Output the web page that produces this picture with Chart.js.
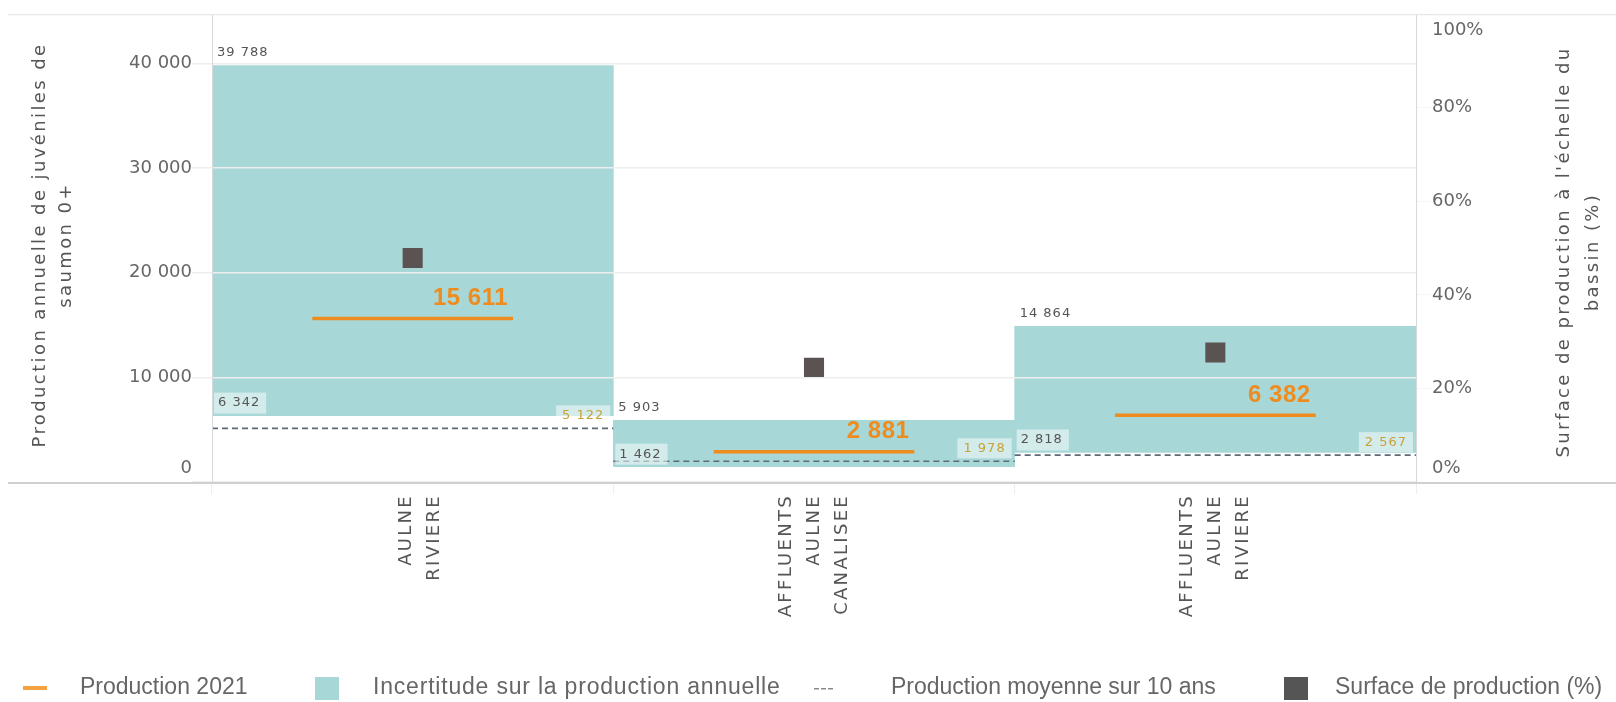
<!DOCTYPE html>
<html lang="fr">
<head>
<meta charset="UTF-8">
<title>Production de juvéniles de saumon 0+</title>
<script src="https://cdn.jsdelivr.net/npm/chart.js"></script>
<style>
  html, body { margin: 0; padding: 0; background: #fff; }
  canvas { display: block; }
</style>
</head>
<body>
<canvas id="chartProduction" width="1616" height="702"></canvas>
<script>
// données
const secteurs = [['AULNE', 'RIVIERE'], ['AFFLUENTS', 'AULNE', 'CANALISEE'], ['AFFLUENTS', 'AULNE', 'RIVIERE']];
const bornesBasses = [6342, 1462, 2818];
const bornesHautes = [39788, 5903, 14864];
const production2021 = [15611, 2881, 6382];
const moyenne10ans = [5122, 1978, 2567];
const surfacePct = [47.9, 24.4, 27.7];
const ticksProduction = [0, 10000, 20000, 30000, 40000];
const ticksSurface = [0, 20, 40, 60, 80, 100];
const maxProduction = 44690;

const ORANGE = '#ef8c1f';
const TURQUOISE = '#a8d7d7';
const GRIS_CARRE = '#5b5351';
const GRIS_TIRETS = '#5f6a78';
const OR = '#c8a239';

function fmt(v) {
    return String(v).replace(/\B(?=(\d{3})+(?!\d))/g, ' ');
}

// segments horizontaux centrés sur chaque catégorie (axe linéaire caché)
function segments(valeurs, demi) {
    const pts = [];
    valeurs.forEach((v, i) => {
        pts.push({ x: i - demi, y: v }, { x: i + demi, y: v }, { x: i + 0.5, y: null });
    });
    return pts;
}

Chart.defaults.font.family = '"DejaVu Sans", sans-serif';

function patchEtiquettes(scale, fn) {
    if (!scale || scale._patchEtiq) return;
    const calcul = scale._computeLabelItems;
    scale._computeLabelItems = function (area) {
        const items = calcul.call(this, area);
        items.forEach(item => fn(this, item));
        return items;
    };
    scale._labelItems = null;
    scale._patchEtiq = true;
}

const ajustements = {
    id: 'ajustements',
    afterLayout(chart) {
        try {
            const sx = chart.scales.x;
            patchEtiquettes(sx, (s, item) => {
                const n = Array.isArray(item.label) ? item.label.length : 1;
                const lh = item.font.lineHeight;
                item.options.translation[0] -= n === 2 ? lh / 2 - 8 : (n - 1) * lh / 2;
            });
            if (!sx._patchEspace) {
                const dessin = sx.drawLabels;
                sx.drawLabels = function (area) {
                    this.ctx.save();
                    this.ctx.letterSpacing = '2.3px';
                    dessin.call(this, area);
                    this.ctx.restore();
                };
                sx._patchEspace = true;
            }
            const serrer = (s, item) => {
                const t = item.options.translation;
                t[1] = Math.min(Math.max(t[1], s.top + 16), s.bottom - 14);
            };
            patchEtiquettes(chart.scales.y, serrer);
            patchEtiquettes(chart.scales.y2, serrer);
        } catch (e) { /* rendu par défaut */ }
    }
};

function texte(ctx, str, x, y, font, couleur, align, espace) {
    ctx.save();
    ctx.font = font;
    ctx.fillStyle = couleur;
    ctx.textAlign = align;
    ctx.textBaseline = 'middle';
    ctx.letterSpacing = espace || '0px';
    ctx.fillText(str, x, y);
    ctx.restore();
}

const decor = {
    id: 'decor',
    afterDraw(chart) {
        const { ctx, chartArea: a, scales: { x, xl, y } } = chart;
        const largeur = x.getPixelForValue(1) - x.getPixelForValue(0);

        // cadre haut et ligne de base
        ctx.save();
        ctx.strokeStyle = '#e2e2e2';
        ctx.lineWidth = 1;
        ctx.beginPath();
        ctx.moveTo(8, a.top + 0.5);
        ctx.lineTo(chart.width, a.top + 0.5);
        ctx.stroke();
        ctx.strokeStyle = '#d0d0d0';
        ctx.lineWidth = 2;
        ctx.beginPath();
        ctx.moveTo(8, a.bottom + 1);
        ctx.lineTo(chart.width, a.bottom + 1);
        ctx.stroke();
        ctx.restore();

        const petit = '13px "DejaVu Sans"';
        secteurs.forEach((_, i) => {
            const gauche = x.getPixelForValue(i) - largeur / 2;
            const droite = gauche + largeur;

            // borne haute
            texte(ctx, fmt(bornesHautes[i]), gauche + 5, y.getPixelForValue(bornesHautes[i]) - 13, petit, '#555', 'left', '1px');

            // borne basse dans un cartouche
            ctx.save();
            ctx.font = petit;
            ctx.letterSpacing = '1px';
            const tb = fmt(bornesBasses[i]);
            const wb = ctx.measureText(tb).width;
            const bas = y.getPixelForValue(bornesBasses[i]);
            ctx.fillStyle = 'rgba(255,255,255,0.5)';
            ctx.fillRect(gauche + 2, bas - 23, wb + 10, 21);
            ctx.restore();
            texte(ctx, tb, gauche + 6, bas - 12.5, petit, '#555', 'left', '1px');

            // moyenne 10 ans
            ctx.save();
            ctx.font = petit;
            ctx.letterSpacing = '1px';
            const tm = fmt(moyenne10ans[i]);
            const wm = ctx.measureText(tm).width;
            const ym = y.getPixelForValue(moyenne10ans[i]);
            ctx.fillStyle = 'rgba(255,255,255,0.5)';
            ctx.fillRect(droite - 3 - wm - 12, ym - 23, wm + 12, 20);
            ctx.restore();
            texte(ctx, tm, droite - 9, ym - 13, petit, OR, 'right', '1px');

            // production 2021
            texte(ctx, fmt(production2021[i]), xl.getPixelForValue(i + 0.25) - 5,
                y.getPixelForValue(production2021[i]) - 20, 'bold 24px "Liberation Sans"', ORANGE, 'right', '0.5px');
        });

        // titres des axes
        const titre = '18px "DejaVu Sans"';
        const vertical = (lignes, xs, yc) => {
            lignes.forEach((l, k) => {
                ctx.save();
                ctx.translate(xs[k], yc);
                ctx.rotate(-Math.PI / 2);
                ctx.font = titre;
                ctx.fillStyle = '#555';
                ctx.textAlign = 'center';
                ctx.textBaseline = 'middle';
                ctx.letterSpacing = '2.4px';
                ctx.fillText(l, 0, 0);
                ctx.restore();
            });
        };
        vertical(['Production annuelle de juvéniles de', 'saumon 0+'], [40, 66], 245);
        vertical(["Surface de production à l'échelle du", 'bassin (%)'], [1564, 1593], 252);

        // légende
        const yl = 688;
        const police = '23px "Liberation Sans"';
        ctx.save();
        ctx.fillStyle = '#f4a340';
        ctx.fillRect(23, yl - 2, 24, 4);
        ctx.fillStyle = TURQUOISE;
        ctx.fillRect(315, yl - 11, 24, 23);
        ctx.fillStyle = '#8a8a8a';
        [814, 821, 828].forEach(px => ctx.fillRect(px, yl, 5, 1.5));
        ctx.fillStyle = '#555';
        ctx.fillRect(1284, yl - 11, 24, 23);
        ctx.restore();
        texte(ctx, 'Production 2021', 80, yl, police, '#666', 'left');
        texte(ctx, 'Incertitude sur la production annuelle', 373, yl, police, '#666', 'left', '0.8px');
        texte(ctx, 'Production moyenne sur 10 ans', 891, yl, police, '#666', 'left');
        texte(ctx, 'Surface de production (%)', 1335, yl, police, '#666', 'left');
    }
};

const ctx = document.getElementById('chartProduction').getContext('2d');
new Chart(ctx, {
    type: 'bar',
    data: {
        labels: secteurs,
        datasets: [{
            type: 'line',
            label: 'Production 2021',
            data: segments(production2021, 0.25),
            xAxisID: 'xl',
            yAxisID: 'y',
            borderColor: ORANGE,
            borderWidth: 3.5,
            borderCapStyle: 'butt',
            pointRadius: 0,
            spanGaps: false,
            order: 1
        }, {
            type: 'bar',
            label: 'Incertitude sur la production annuelle',
            data: bornesBasses.map((b, i) => [b, bornesHautes[i]]),
            xAxisID: 'x',
            yAxisID: 'y',
            backgroundColor: TURQUOISE,
            borderWidth: 0,
            grouped: false,
            barPercentage: 1,
            categoryPercentage: 1,
            order: 10
        }, {
            type: 'line',
            label: 'Production moyenne sur 10 ans',
            data: segments(moyenne10ans, 0.5),
            xAxisID: 'xl',
            yAxisID: 'y',
            borderColor: GRIS_TIRETS,
            borderWidth: 1.6,
            borderDash: [6, 4],
            pointRadius: 0,
            spanGaps: false,
            order: 2
        }, {
            type: 'line',
            label: 'Surface de production (%)',
            data: surfacePct,
            xAxisID: 'x',
            yAxisID: 'y2',
            showLine: false,
            pointStyle: 'rect',
            pointRadius: 14.2,
            pointHoverRadius: 14.2,
            pointBackgroundColor: GRIS_CARRE,
            pointBorderWidth: 0,
            order: 0
        }]
    },
    options: {
        responsive: false,
        animation: false,
        devicePixelRatio: 1,
        layout: { padding: { top: 9, bottom: 50, left: 0, right: 0 } },
        plugins: {
            legend: { display: false },
            tooltip: { enabled: false }
        },
        scales: {
            x: {
                type: 'category',
                offset: true,
                afterFit: s => { s.height = 170; },
                grid: { display: true, offset: true, drawOnChartArea: false, drawTicks: true, tickLength: 12, color: '#eeeeee' },
                border: { display: false },
                ticks: {
                    autoSkip: false,
                    minRotation: 90,
                    maxRotation: 90,
                    padding: 0,
                    color: '#555',
                    font: { size: 18, lineHeight: 1.55 }
                }
            },
            xl: {
                type: 'linear',
                display: false,
                offset: false,
                grid: { offset: false },
                min: -0.5,
                max: 2.5
            },
            y: {
                position: 'left',
                min: 0,
                max: maxProduction,
                afterFit: s => { s.width = 212; s.paddingTop = 0; s.paddingBottom = 0; },
                afterBuildTicks: s => { s.ticks = ticksProduction.map(v => ({ value: v })); },
                grid: { color: '#eeeeee', lineWidth: 1.5, z: 1, tickLength: 20 },
                border: { display: true, color: '#d9d9d9', z: 1 },
                ticks: {
                    padding: 0,
                    color: '#666',
                    font: { size: 18 },
                    callback: v => fmt(v)
                }
            },
            y2: {
                position: 'right',
                min: 0,
                max: 100,
                afterFit: s => { s.width = 200; s.paddingTop = 0; s.paddingBottom = 0; },
                afterBuildTicks: s => { s.ticks = ticksSurface.map(v => ({ value: v })); },
                grid: { drawOnChartArea: false, tickLength: 16, color: '#f6f6f6' },
                border: { display: true, color: '#d9d9d9', z: 1 },
                ticks: {
                    padding: 0,
                    color: '#666',
                    font: { size: 18 },
                    callback: v => v + '%'
                }
            }
        }
    },
    plugins: [ajustements, decor]
});
</script>
</body>
</html>
